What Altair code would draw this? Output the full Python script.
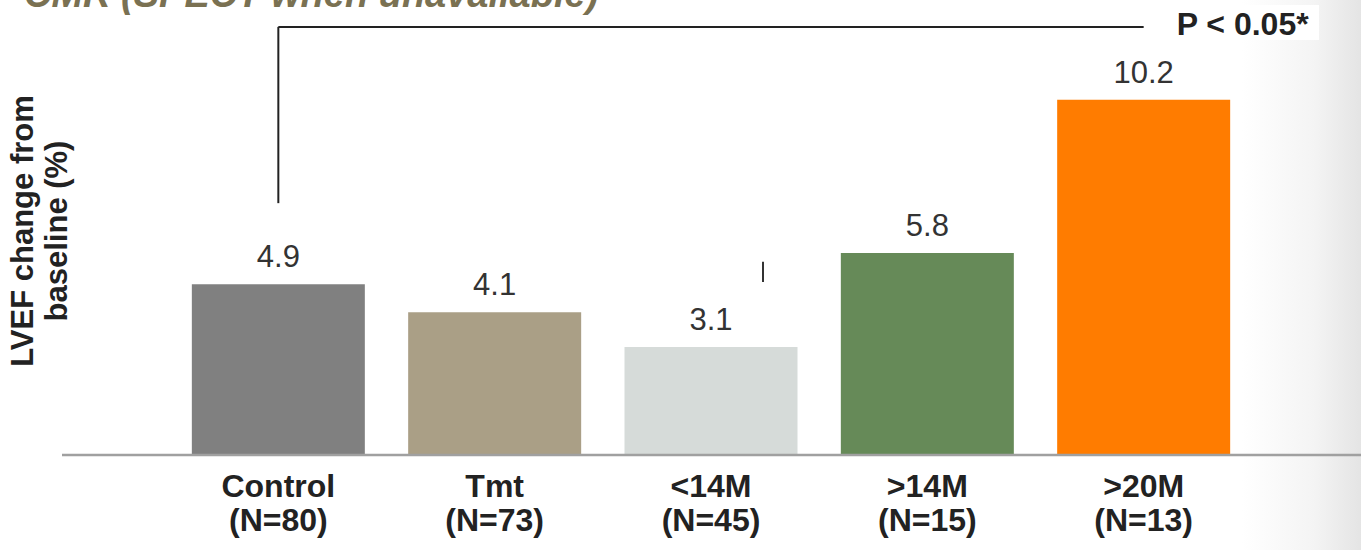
import altair as alt
import pandas as pd

# Bar chart: LVEF change from baseline by group
groups = ["Control", "Tmt", "<14M", ">14M", ">20M"]
sizes = ["(N=80)", "(N=73)", "(N=45)", "(N=15)", "(N=13)"]
values = [4.9, 4.1, 3.1, 5.8, 10.2]
colors = ["#808080", "#aa9f86", "#d6dbd9", "#668a58", "#ff7c00"]

title_text = "CMR (SPECT when unavailable)"
axis_title = "LVEF change from\nbaseline (%)"
p_text = "P < 0.05*"

df = pd.DataFrame({
    "group": groups,
    "value": values,
    "color": colors,
    "label": [g + "\n" + n for g, n in zip(groups, sizes)],
})

W, H = 1298, 418
FONT = "Liberation Sans"

x_enc = alt.X("group:N", sort=groups, axis=None,
              scale=alt.Scale(domain=groups, paddingInner=0.2, paddingOuter=0.6))
y_scale = alt.Scale(domain=[0, 12], nice=False, zero=True)

base = alt.Chart(df)

# soft grey shading along the right edge
shade = alt.Chart(pd.DataFrame({"k": [0]})).mark_rect(
    color=alt.LinearGradient(
        gradient="linear",
        stops=[alt.GradientStop(color="#ffffff", offset=0),
               alt.GradientStop(color="#f4f4f4", offset=0.6),
               alt.GradientStop(color="#e4e4e4", offset=1)],
        x1=0, x2=1, y1=0, y2=0),
).encode(x=alt.value(1180), x2=alt.value(1300), y=alt.value(-37), y2=alt.value(513))

bars = base.mark_bar(size=173).encode(
    x=x_enc,
    y=alt.Y("value:Q", scale=y_scale, axis=None),
    color=alt.Color("color:N", scale=None),
)

value_labels = base.mark_text(
    font=FONT, fontSize=31, color="#333333", baseline="alphabetic", dy=-17
).encode(
    x=x_enc,
    y=alt.Y("value:Q", scale=y_scale),
    text=alt.Text("value:Q", format=".1f"),
)

cat_labels = base.mark_text(
    font=FONT, fontSize=32, fontWeight="bold", color="#222222",
    baseline="alphabetic", lineBreak="\n", lineHeight=34,
).encode(
    x=x_enc,
    y=alt.value(H + 42),
    text="label:N",
)

baseline_rule = alt.Chart(pd.DataFrame({"k": [0]})).mark_rule(
    color="#a0a0a0", strokeWidth=2.5
).encode(x=alt.value(0), x2=alt.value(W + 1), y=alt.value(H))

# significance bracket from Control to >20M
bracket_y = 12.29
bracket_low = 7.23
bracket_v = alt.Chart(pd.DataFrame({"group": ["Control"], "y1": [bracket_low], "y2": [bracket_y]})).mark_rule(
    color="#222222", strokeWidth=2
).encode(x=x_enc, y=alt.Y("y1:Q", scale=y_scale), y2="y2:Q")

bracket_h = alt.Chart(pd.DataFrame({"a": ["Control"], "b": [">20M"], "y": [bracket_y]})).mark_rule(
    color="#222222", strokeWidth=2
).encode(
    x=alt.X("a:N", sort=groups, axis=None,
            scale=alt.Scale(domain=groups, paddingInner=0.2, paddingOuter=0.6)),
    x2="b:N",
    y=alt.Y("y:Q", scale=y_scale),
)

p_box = alt.Chart(pd.DataFrame({"k": [0]})).mark_rect(color="#ffffff").encode(
    x=alt.value(1103), x2=alt.value(1257), y=alt.value(-32), y2=alt.value(3)
)

p_label = alt.Chart(pd.DataFrame({"group": [">20M"], "y": [12.06], "t": [p_text]})).mark_text(
    font=FONT, fontSize=32, fontWeight="bold", color="#222222",
    align="left", baseline="alphabetic", dx=33,
).encode(x=x_enc, y=alt.Y("y:Q", scale=y_scale), text="t:N")

# small stray tick beside the <14M bar
tick = alt.Chart(pd.DataFrame({"group": ["<14M"], "y1": [4.97], "y2": [5.55]})).mark_rule(
    color="#333333", strokeWidth=2, xOffset=52
).encode(x=x_enc, y=alt.Y("y1:Q", scale=y_scale), y2="y2:Q")

y_title = alt.Chart(pd.DataFrame({"t": [axis_title]})).mark_text(
    font=FONT, fontSize=31, fontWeight="bold", color="#222222",
    angle=270, align="center", baseline="alphabetic", lineBreak="\n", lineHeight=34,
).encode(x=alt.value(-29), y=alt.value(194), text="t:N")

top_title = alt.Chart(pd.DataFrame({"t": [title_text]})).mark_text(
    font=FONT, fontSize=38, fontWeight="bold", fontStyle="italic", color="#7a7152",
    align="left", baseline="alphabetic",
).encode(x=alt.value(-38), y=alt.value(-30), text="t:N")

chart = alt.layer(
    shade, bars, value_labels, cat_labels, baseline_rule,
    bracket_v, bracket_h, p_box, p_label, tick, y_title, top_title,
).properties(
    width=W, height=H,
    autosize=alt.AutoSizeParams(type="none"),
    padding={"left": 62, "top": 37, "right": 1, "bottom": 95},
    background="#ffffff",
).configure_view(stroke=None)

chart.save("out.html", embed_options={"renderer": "svg", "actions": False})
